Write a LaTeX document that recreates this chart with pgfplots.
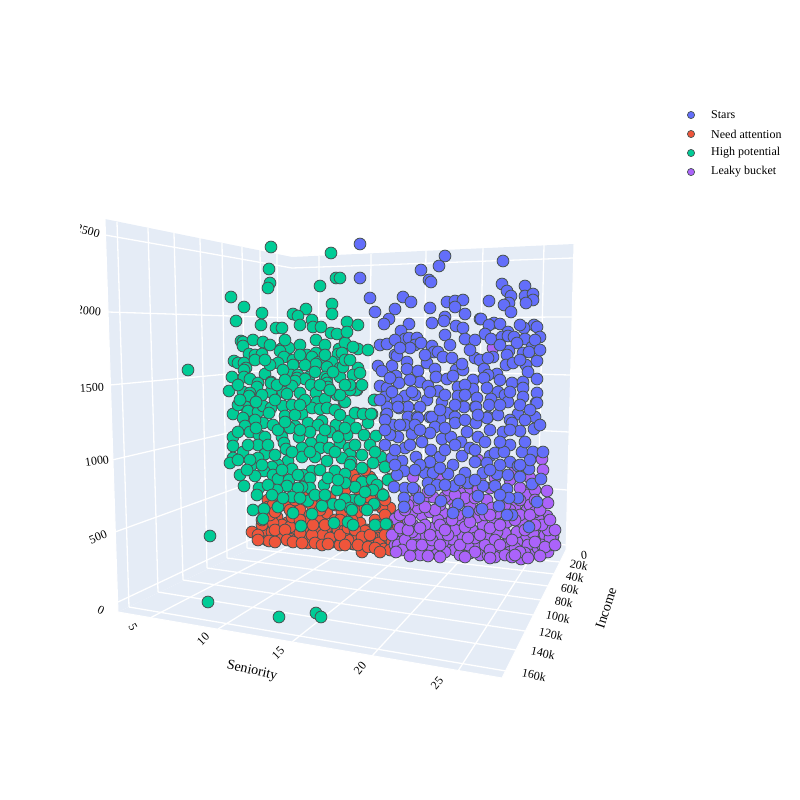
\documentclass[border=0pt]{standalone}
\usepackage{fontspec}
\setmainfont{Liberation Serif}
\usepackage{pgfplots}
\pgfplotsset{compat=1.18}
\definecolor{pane}{HTML}{E5ECF6}
\definecolor{cblue}{HTML}{636EFA}
\definecolor{cred}{HTML}{EF553B}
\definecolor{cgreen}{HTML}{00CC96}
\definecolor{cpurple}{HTML}{AB63FA}
\definecolor{edge}{HTML}{4A5555}
\pgfplotsset{
  gl/.style={white,line width=1.3pt,no markers,sharp plot},
  pts/.style={only marks,mark=*,mark size=5.9pt,mark options={fill=#1,draw=edge,line width=0.85pt}},
  leg/.style={only marks,mark=*,mark size=3.6pt,mark options={fill=#1,draw=edge,line width=0.7pt}},
}
\tikzset{tx/.style={font=\fontsize{12}{14}\selectfont,text=black,inner sep=0pt}}
\begin{document}
\begin{tikzpicture}
\begin{axis}[width=800pt,height=800pt,scale only axis,xmin=0,xmax=800,ymin=0,ymax=800,y dir=reverse,hide axis,clip=false]
\addplot[draw=none,no markers] coordinates {(0,0)(800,800)};
% panes
\addplot[fill=pane,draw=none,no markers] coordinates {(105,219)(292,257)(292,529)(118,612)} --cycle;
\addplot[fill=pane,draw=none,no markers] coordinates {(292,257)(574,244)(566,550)(292,529)} --cycle;
\addplot[fill=pane,draw=none,no markers] coordinates {(118,612)(502,678)(566,550)(292,529)} --cycle;
% left wall verticals
\addplot[gl] coordinates {(117,222)(129,607)};
\addplot[gl] coordinates {(148,228)(158,592)};
\addplot[gl] coordinates {(174,233)(183,580)};
\addplot[gl] coordinates {(200,238)(207,568)};
\addplot[gl] coordinates {(222,243)(227,558)};
\addplot[gl] coordinates {(242,247)(247,548)};
\addplot[gl] coordinates {(260,250)(264,541)};
\addplot[gl] coordinates {(277,254)(279,535)};
% left wall horizontals
\addplot[gl] coordinates {(105,235)(292,268)};
\addplot[gl] coordinates {(108,312)(292,318)};
\addplot[gl] coordinates {(110,385)(292,368)};
\addplot[gl] coordinates {(112,460)(292,418)};
\addplot[gl] coordinates {(115,532)(292,468)};
\addplot[gl] coordinates {(118,602)(292,520)};
% back wall
\addplot[gl] coordinates {(319,256)(318,531)};
\addplot[gl] coordinates {(371,254)(369,535)};
\addplot[gl] coordinates {(426,251)(422,539)};
\addplot[gl] coordinates {(483,248)(476,543)};
\addplot[gl] coordinates {(544,245)(537,548)};
\addplot[gl] coordinates {(292,268)(573,258)};
\addplot[gl] coordinates {(292,318)(572,317)};
\addplot[gl] coordinates {(292,368)(570,375)};
\addplot[gl] coordinates {(292,418)(569,432)};
\addplot[gl] coordinates {(292,468)(567,490)};
\addplot[gl] coordinates {(292,520)(566,545)};
% floor
\addplot[gl] coordinates {(150,618)(318,531)};
\addplot[gl] coordinates {(218,629)(369,535)};
\addplot[gl] coordinates {(292,642)(422,539)};
\addplot[gl] coordinates {(372,656)(476,543)};
\addplot[gl] coordinates {(458,671)(537,548)};
\addplot[gl] coordinates {(129,607)(506,671)};
\addplot[gl] coordinates {(158,592)(516,650)};
\addplot[gl] coordinates {(183,580)(525,631)};
\addplot[gl] coordinates {(207,568)(533,615)};
\addplot[gl] coordinates {(227,558)(541,600)};
\addplot[gl] coordinates {(247,548)(548,586)};
\addplot[gl] coordinates {(264,541)(554,574)};
\addplot[gl] coordinates {(279,535)(560,562)};
% pane edges
\addplot[gl,line width=1pt] coordinates {(105,219)(118,612)(502,678)(566,550)(574,244)};
% Need attention
\addplot[pts=cred] coordinates {
(370,477)(353,475)(268,500)(303,493)(267,540)(308,543)(333,542)(353,544)(362,552)(383,548)(393,547)(252,532)
(265,530)(272,532)(280,533)(290,537)(298,538)(317,537)(327,537)(342,538)(365,543)(373,543)(390,537)(277,517)
(268,507)(287,523)(295,522)(310,527)(320,520)(330,530)(342,527)(360,523)(367,530)(380,530)(390,520)(390,508)
(382,508)(395,530)(358,512)(342,512)(327,513)(317,503)(330,497)(285,505)(300,510)(302,495)(360,493)(357,480)
(370,483)(380,493)(370,498)(273,505)(320,528)(303,530)(293,528)(282,525)(273,523)(343,537)(337,530)(350,535)
(357,537)(377,538)(385,545)(390,528)(395,537)(269,541)(278,538)(317,530)(325,538)(333,537)(338,530)(354,544)
(365,531)(357,537)(372,537)(379,543)(384,549)(388,537)(303,528)(290,527)(317,540)(323,535)(348,540)(330,542)
(262,525)(305,538)(312,535)(340,545)(345,530)(352,520)(375,520)(385,515)(310,515)(290,510)(335,520)(365,508)
(375,505)(345,500)(312,505)(350,508)(280,498)(295,500)
(258,535)(262,520)(270,515)(275,530)(285,530)(287,540)(300,533)(305,522)(313,525)(325,525)(330,538)(340,535)
(348,528)(355,530)(362,537)(370,535)(378,525)(385,535)(392,542)(258,540)(275,542)(293,542)(302,543)(315,543)
(322,545)(328,544)(345,545)(358,545)(368,547)(375,548)(390,550)(380,552)(263,510)(275,512)(292,517)(320,510)
(335,505)(355,500)(372,490)(385,500)(365,470)(345,490)(275,495)(300,520)(340,520)(398,540)(398,525)};
% Leaky bucket
\addplot[pts=cpurple] coordinates {
(478,460)(413,477)(542,459)(547,491)(528,493)(547,516)(553,537)(540,521)(540,528)(395,519)(493,348)
(400,542)(407,548)(415,553)(425,550)(437,554)(450,548)(455,550)(470,553)(480,555)(488,555)(498,553)(505,545)
(521,559)(522,547)(534,552)(543,553)(548,552)(553,536)(550,545)(540,542)(526,537)(533,533)(517,542)(517,532)
(505,533)(497,532)(487,538)(478,543)(468,545)(462,537)(452,539)(443,542)(433,528)(423,537)(413,525)(422,515)
(412,513)(403,532)(415,537)(430,512)(447,523)(460,522)(472,530)(483,525)(495,520)(507,522)(523,523)(538,518)
(527,510)(515,507)(497,513)(477,517)(468,515)(458,515)(443,513)(452,500)(468,493)(487,500)(503,500)(500,492)
(527,495)(445,497)(433,497)(423,500)(448,490)(460,493)(395,545)(392,535)(400,528)(408,520)(418,545)(430,545)
(440,535)(455,530)(465,527)(475,538)(485,545)(495,540)(510,552)(515,548)(528,545)(530,555)(538,548)(545,535)
(542,545)(490,528)(480,510)(470,505)(492,508)(510,510)(520,515)(530,505)(535,512)(438,520)(425,525)(418,508)
(440,505)(455,508)(465,498)(478,490)(490,488)(510,480)(520,488)(535,490)(415,500)(408,505)(440,480)(412,532)
(398,545)(405,540)(420,555)(445,552)(460,555)(475,552)(495,557)(505,555)(512,557)(525,553)(550,538)(548,530)(542,525)
(402,550)(412,545)(422,545)(432,540)(440,545)(448,535)(460,545)(468,538)(480,535)(490,550)(500,545)(512,540)
(520,552)(535,542)(545,547)(555,530)(408,530)(420,528)(430,535)(440,525)(452,520)(470,522)(485,515)(500,525)
(515,520)(530,515)(535,525)(525,530)(540,510)(535,500)(520,500)(505,505)(490,515)(475,498)(455,495)(435,510)
(425,507)(445,530)(410,520)(400,515)(405,510)(415,490)(428,492)(445,485)(458,483)(480,480)(495,478)(515,470)
(530,478)(543,470)(548,503)(550,520)(555,545)(540,556)(528,558)(515,555)(490,558)(465,557)(440,557)(428,556)(410,556)(396,552)};
% High potential
\addplot[pts=cgreen] coordinates {
(271,247)(331,253)(269,269)(270,283)(268,288)(336,278)(320,286)(231,297)(244,307)(332,304)(306,309)(262,313)
(293,314)(298,316)(332,314)(236,321)(312,320)(261,325)(300,325)(313,327)(321,327)(276,328)(282,328)(331,333)
(337,334)(316,340)(241,341)(243,342)(253,340)(263,342)(243,346)(281,349)(289,348)(280,351)(339,349)(249,354)
(255,355)(262,354)(307,355)(316,353)(312,357)(338,354)(284,357)(234,361)(238,363)(244,363)(255,360)(293,360)
(319,362)(332,362)(278,363)(316,364)(293,365)(327,367)(246,368)(244,370)(340,368)(188,370)(265,374)(232,377)
(244,377)(291,375)(298,375)(309,377)(297,378)(325,377)(250,379)(327,379)(305,379)(295,381)(340,377)(258,383)
(271,382)(292,386)(311,385)(327,383)(257,387)(328,387)(229,391)(243,392)(271,392)(283,392)(287,394)(300,393)
(316,393)(250,393)(337,395)(250,397)
(249,396)(271,383)(317,402)(325,399)(344,402)(350,390)(357,390)(375,400)(246,407)(233,414)(248,411)(258,412)
(263,406)(271,408)(269,413)(283,406)(285,416)(302,414)(312,408)(320,409)(327,408)(243,418)(245,426)(263,423)
(273,425)(250,432)(295,426)(290,428)(308,423)(322,421)(318,425)(336,425)(356,413)(364,414)(372,414)(349,421)
(368,423)(356,428)(330,432)(347,435)(364,435)(376,436)(233,437)(259,435)(265,437)(282,437)(299,437)(311,443)
(322,439)(340,443)(233,446)(258,445)(284,443)(286,449)(302,448)(320,448)(329,448)(349,448)(243,452)(265,454)
(258,458)(315,457)(302,457)(327,461)(362,455)(381,457)(350,454)(342,458)(351,462)(233,458)(230,463)(238,460)
(288,461)(278,465)(272,467)(251,466)(292,469)(362,468)(350,465)(373,463)(385,467)(335,471)(345,474)(312,471)
(303,475)(264,471)(255,476)(273,475)(278,479)(310,478)(289,480)(362,482)(355,487)(372,480)(377,485)(390,479)
(345,483)(244,486)(259,488)(324,485)(310,488)(302,487)(287,486)(277,490)(337,490)(257,495)(298,488)(373,490)
(383,495)(353,500)(345,499)(292,497)(308,501)(333,504)(322,506)(278,507)(253,510)(264,509)(350,508)(374,504)
(367,510)(293,513)(312,514)(263,519)(348,522)(334,523)(301,526)(353,525)(375,525)(387,524)(210,536)
(347,322)(358,325)(340,278)(345,343)(358,349)(368,350)(353,347)(342,353)(343,367)(358,368)(353,375)(360,373)
(374,400)(356,390)(350,390)(345,402)(355,413)(363,414)(371,414)(340,395)(208,602)(279,617)(316,613)(321,617)
(386,524)(385,467)(388,480)(383,495)
(238,405)(255,420)(256,428)(238,432)(275,400)(292,405)(295,415)(305,400)(335,410)(340,415)(310,432)(325,430)
(345,428)(278,430)(285,422)(300,430)(268,445)(275,455)(292,452)(310,452)(335,452)(338,437)(355,445)(370,445)
(375,452)(248,445)(250,460)(262,465)(282,470)(298,475)(320,470)(328,478)(338,480)(268,485)(283,498)(272,495)
(300,498)(315,495)(360,500)(365,492)(352,510)(340,505)(325,495)(240,475)(247,470)
(270,345)(285,340)(300,345)(325,345)(345,360)(350,360)(270,365)(283,370)(305,365)(315,372)(320,385)(333,372)
(350,385)(362,385)(262,395)(238,385)(240,400)(256,402)(300,405)(330,390)(345,385)(277,385)(285,380)(265,360)
(300,355)(325,355)(347,332)};
% Stars
\addplot[pts=cblue] coordinates {
(360,244)(445,256)(439,266)(421,270)(503,261)(360,278)(429,280)(431,282)(502,284)(525,286)(507,291)(511,296)
(370,298)(403,297)(411,302)(447,302)(455,301)(463,300)(455,307)(489,301)(525,296)(533,294)(533,300)(526,303)
(509,303)(504,305)(511,312)(395,309)(430,308)(465,314)(375,312)(389,319)(384,324)(409,324)(432,323)(445,317)
(444,321)(480,319)(481,319)(494,323)(489,325)(500,324)(456,326)(463,328)(401,331)(534,325)(537,327)(524,328)
(508,332)(485,334)(405,339)(409,338)(417,338)(465,339)(491,339)(502,337)(508,336)(514,337)(525,339)(540,337)
(517,343)(415,345)(421,343)(410,348)(380,345)(387,344)(432,346)(434,352)(438,352)(532,347)(509,351)(523,353)
(529,352)(507,355)(493,357)(475,358)(480,360)(488,358)(443,357)(452,358)(395,355)(397,356)(407,362)(427,363)
(537,361)(378,366)(392,366)(382,371)(407,369)(418,371)(435,369)(456,370)(463,370)(484,369)(462,364)(506,365)
(513,363)(526,365)(528,372)(497,374)(488,375)(396,376)(436,377)(447,379)(453,376)(537,379)(420,382)(473,380)
(484,378)(512,383)(523,382)(399,383)(428,386)(458,387)(487,388)(380,386)(473,389)(387,388)(438,391)(498,392)
(523,388)(537,393)(405,396)(458,396)(385,397)(427,400)(477,398)(491,399)(505,395)(523,397)(442,402)(508,402)
(536,403)(397,400)(387,407)(399,408)(408,407)(420,407)(464,407)(475,407)(489,405)(447,413)(386,415)(408,417)
(417,417)(430,417)(455,417)(488,417)(518,414)(535,417)(510,420)(440,419)
(398,407)(387,414)(418,418)(432,417)(476,407)(487,418)(498,415)(512,423)(537,403)(393,425)(405,425)(435,427)
(455,423)(465,420)(476,423)(385,420)(412,434)(430,433)(442,439)(451,437)(467,432)(478,437)(503,432)(520,431)
(534,429)(398,437)(390,435)(422,442)(461,442)(485,442)(510,445)(405,448)(431,450)(416,457)(440,457)(462,456)
(490,456)(495,453)(504,452)(522,452)(533,452)(543,452)(402,461)(392,458)(430,462)(453,465)(475,462)(487,463)
(510,462)(518,466)(529,469)(404,471)(397,475)(425,473)(433,473)(448,474)(465,473)(483,473)(497,474)(508,475)
(520,477)(428,483)(437,485)(394,487)(405,488)(454,486)(468,483)(483,486)(495,486)(507,489)(532,484)(541,479)
(413,488)(478,496)(419,498)(404,498)(518,498)(509,498)(441,501)(537,502)(404,507)(458,504)(499,506)(482,509)
(468,512)(453,513)(512,515)(507,515)(529,527)
(395,340)(445,335)(475,340)(500,345)(470,350)(450,345)(520,325)(535,340)(520,360)(540,350)(400,348)(425,355)
(390,378)(410,380)(445,395)(465,385)(465,395)(455,405)(500,380)(510,392)(520,405)(530,410)(415,395)(430,392)
(440,410)(380,400)(392,392)(412,392)(478,415)(500,405)(525,420)(540,425)(415,425)(445,428)(420,430)(490,430)
(510,430)(400,425)(385,430)(410,445)(445,450)(455,445)(470,448)(500,442)(525,442)(475,450)(385,445)(395,450)
(420,465)(440,468)(460,480)(500,465)(530,460)(415,470)(475,480)(500,495)(430,490)(445,485)(490,470)(520,465)(395,465)};
% axis text
\node[tx,rotate=-15] at (axis cs:88,231) {2500};
\node[tx,rotate=-5] at (axis cs:89,311) {2000};
\node[tx,rotate=3] at (axis cs:92,388) {1500};
\node[tx,rotate=8] at (axis cs:97,461) {1000};
\node[tx,rotate=22] at (axis cs:98,537) {500};
\node[tx,rotate=-25] at (axis cs:101,610) {0};
\node[tx,rotate=-60] at (axis cs:133,627) {5};
\node[tx,rotate=45] at (axis cs:203,639) {10};
\node[tx,rotate=45] at (axis cs:278,653) {15};
\node[tx,rotate=50] at (axis cs:360,668) {20};
\node[tx,rotate=50] at (axis cs:437,683) {25};
\node[tx,rotate=-13,font=\fontsize{14}{16}\selectfont] at (axis cs:252,671) {Seniority};
\node[tx,rotate=72,font=\fontsize{14}{16}\selectfont] at (axis cs:606,608) {Income};
\node[tx,rotate=5] at (axis cs:584,555) {0};
\node[tx,rotate=-12] at (axis cs:579,565) {20k};
\node[tx,rotate=-12] at (axis cs:575,577) {40k};
\node[tx,rotate=-12] at (axis cs:570,589) {60k};
\node[tx,rotate=-12] at (axis cs:564,602) {80k};
\node[tx,rotate=-12] at (axis cs:558,617) {100k};
\node[tx,rotate=-12] at (axis cs:551,634) {120k};
\node[tx,rotate=-12] at (axis cs:543,653) {140k};
\node[tx,rotate=-12] at (axis cs:534,675) {160k};
% clip band left of the scene
\addplot[fill=white,draw=none,no markers] coordinates {(60,210)(80,210)(80,330)(60,330)} --cycle;
% legend
\addplot[leg=cblue] coordinates {(691,115)};
\addplot[leg=cred] coordinates {(691,134)};
\addplot[leg=cgreen] coordinates {(691,153)};
\addplot[leg=cpurple] coordinates {(691,172)};
\node[tx,anchor=west] at (axis cs:711,115) {Stars};
\node[tx,anchor=west] at (axis cs:711,134) {Need attention};
\node[tx,anchor=west] at (axis cs:711,153) {High potential};
\node[tx,anchor=west] at (axis cs:711,172) {Leaky bucket};
\end{axis}
\end{tikzpicture}
\end{document}
